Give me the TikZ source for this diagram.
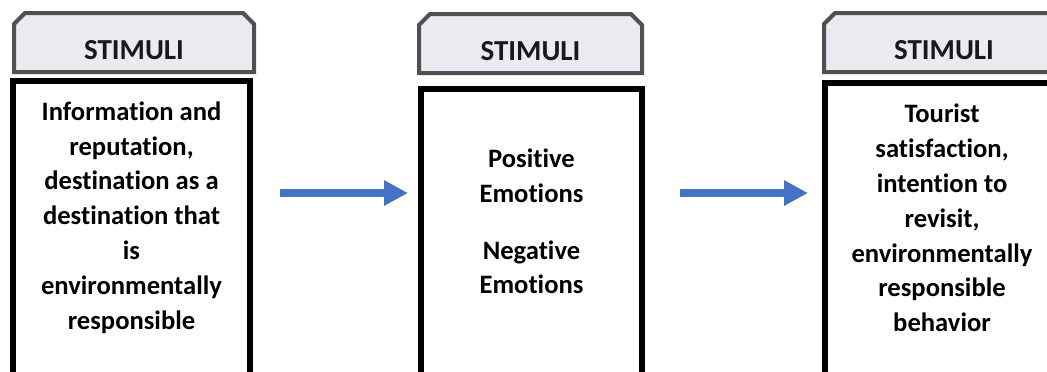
\documentclass[tikz,border=0pt]{standalone}
\usepackage{fontspec}
\setmainfont{Carlito}[Ligatures=NoCommon]
\usetikzlibrary{arrows.meta}

\definecolor{tabfill}{HTML}{E9EBF0}
\definecolor{tabline}{HTML}{505050}
\definecolor{flowblue}{HTML}{4472C4}

\begin{document}
\begin{tikzpicture}[x=0.5pt,y=-0.5pt,
    tab/.style={rectangle, minimum height=29.5pt, inner sep=0pt, outer sep=0pt},
    tabedge/.style={draw=tabline, fill=tabfill, line width=2pt, line join=miter},
    body/.style={rectangle, draw=black, line width=3pt, minimum height=170pt,
        inner sep=0pt, outer sep=0pt, anchor=north},
    title/.style={font=\bfseries\fontsize{14.5}{17}\selectfont, text=black!90},
    words/.style={font=\bfseries\fontsize{13.3}{17.4}\selectfont, align=center},
    flow/.style={draw=flowblue, line width=4pt, -{Triangle[length=12pt,width=12pt]}}]

\useasboundingbox (0,0) rectangle (1047,371);
\clip (0,0) rectangle (1047,371);

% header tabs
\node[tab, minimum width=120pt] (head1) at (134,42.5) {};
\node[tab, minimum width=111.5pt] (head2) at (530.5,43.5) {};
\node[tab, minimum width=120pt] (head3) at (944,42.5) {};
\foreach \h in {head1,head2,head3}
    \draw[tabedge] (\h.south west) -- ([yshift=-5.5pt]\h.north west) -- ([xshift=5.5pt]\h.north west)
        -- ([xshift=-5.5pt]\h.north east) -- ([yshift=-5.5pt]\h.north east) -- (\h.south east) -- cycle;

\node[title] (t1) at ([yshift=-4pt]head1.center) {STIMULI};
\node[title] (t2) at ([yshift=-4pt]head2.center) {STIMULI};
\node[title] (t3) at ([yshift=-4pt]head3.center) {STIMULI};

% open boxes below
\node[body, minimum width=118.5pt] (body1) at (131.5,81) {};
\node[body, minimum width=110.5pt] (body2) at (531.5,89) {};
\node[body, minimum width=118.5pt] (body3) at (943.5,83) {};

\node[words] (info) at (131.5,217.5) {Information and\\ reputation,\\ destination as a\\ destination that\\ is\\ environmentally\\ responsible};
\node[words] (emo) at (531.5,221.5) {Positive\\ Emotions\\[11pt] Negative\\ Emotions};
\node[words] (out) at (942,218) {Tourist\\ satisfaction,\\ intention to\\ revisit,\\ environmentally\\ responsible\\ behavior};

\coordinate (row) at (0,193);
\draw[flow, shorten <=15pt, shorten >=6.5pt] (body1.east |- row) -- (body2.west |- row);
\draw[flow, shorten <=19pt, shorten >=8.5pt] (body2.east |- row) -- (body3.west |- row);
\end{tikzpicture}
\end{document}
